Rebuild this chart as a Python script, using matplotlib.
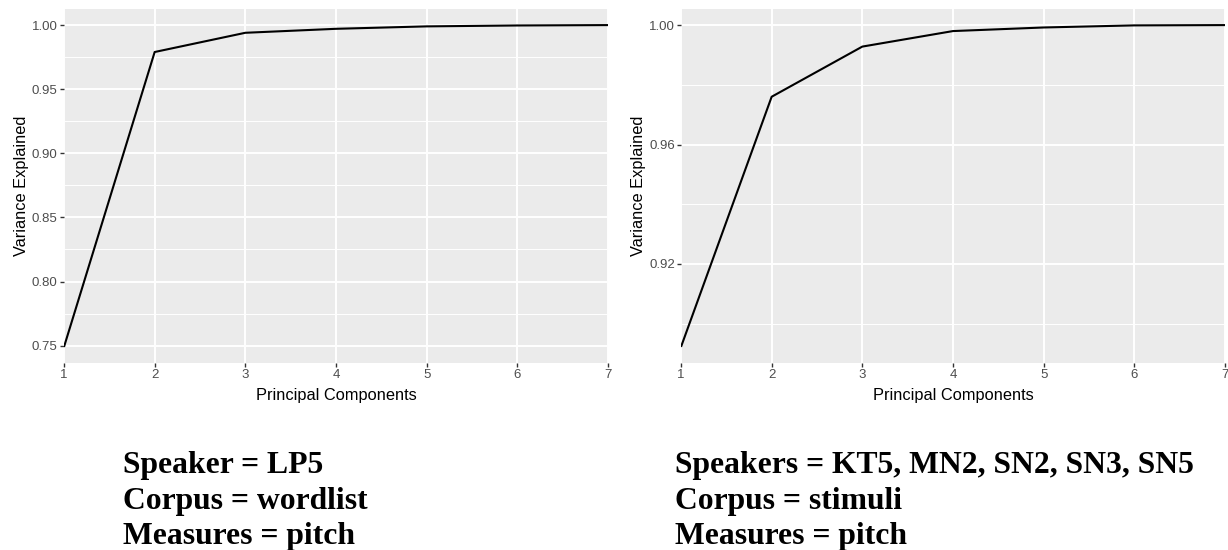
import matplotlib
matplotlib.use("Agg")
import matplotlib.pyplot as plt
from matplotlib.ticker import FixedLocator, FormatStrFormatter

components = [1, 2, 3, 4, 5, 6, 7]
var_lp5 = [0.749, 0.979, 0.994, 0.9971, 0.9990, 0.9997, 1.0]
var_group = [0.8922, 0.976, 0.9928, 0.998, 0.9992, 0.9999, 1.0]

left_majors = [0.75, 0.80, 0.85, 0.90, 0.95, 1.00]
left_minors = [0.725, 0.775, 0.825, 0.875, 0.925, 0.975, 1.025]
right_majors = [0.92, 0.96, 1.00]
right_minors = [0.88, 0.90, 0.94, 0.98, 1.02]

left_caption = ["Speaker = LP5", "Corpus = wordlist", "Measures = pitch"]
right_caption = ["Speakers = KT5, MN2, SN2, SN3, SN5", "Corpus = stimuli", "Measures = pitch"]

W, H = 1228, 550
fig = plt.figure(figsize=(W / 100, H / 100), dpi=100)
fig.patch.set_facecolor("white")

PANEL = "#EBEBEB"
TICKCOL = "#4D4D4D"


def px_axes(x0, y0, x1, y1):
    return fig.add_axes([x0 / W, 1 - y1 / H, (x1 - x0) / W, (y1 - y0) / H])


def pca_panel(ax, values, majors, minors):
    lo, hi = min(values), max(values)
    r = hi - lo
    ax.set_ylim(lo - 0.05 * r, hi + 0.05 * r)
    ax.set_xlim(1, 7)
    ax.set_facecolor(PANEL)
    for s in ax.spines.values():
        s.set_visible(False)
    ax.yaxis.set_major_locator(FixedLocator(majors))
    ax.yaxis.set_minor_locator(FixedLocator(minors))
    ax.xaxis.set_major_locator(FixedLocator(components))
    ax.yaxis.set_major_formatter(FormatStrFormatter("%.2f"))
    ax.grid(which="major", color="white", lw=1.4)
    ax.grid(which="minor", axis="y", color="white", lw=0.7)
    ax.set_axisbelow(True)
    ax.tick_params(which="major", length=3, width=1.0, color="#333333",
                   labelcolor=TICKCOL, labelsize=9.5, pad=1.5)
    ax.tick_params(which="minor", length=0)
    for lab in ax.get_xticklabels() + ax.get_yticklabels():
        lab.set_family(["Liberation Sans Narrow", "Liberation Sans"])
    ax.plot(components, values, color="black", lw=1.5, solid_capstyle="butt")
    ax.set_xlabel("Principal Components", fontsize=11.8, family="Liberation Sans",
                  color="black", labelpad=5)
    ax.set_ylabel("Variance Explained", fontsize=11.8, family="Liberation Sans",
                  color="black", labelpad=2)


ax1 = px_axes(64, 9, 608, 363)
pca_panel(ax1, var_lp5, left_majors, left_minors)
ax2 = px_axes(681, 9, 1225, 363)
pca_panel(ax2, var_group, right_majors, right_minors)

baselines = [473, 509, 544]
for lines, x in ((left_caption, 123), (right_caption, 675)):
    for txt, yb in zip(lines, baselines):
        fig.text(x / W, 1 - yb / H, txt, fontsize=22.8, fontweight="bold",
                 family="Liberation Serif", va="baseline", ha="left")

fig.savefig("out.png", dpi=100, facecolor="white")
